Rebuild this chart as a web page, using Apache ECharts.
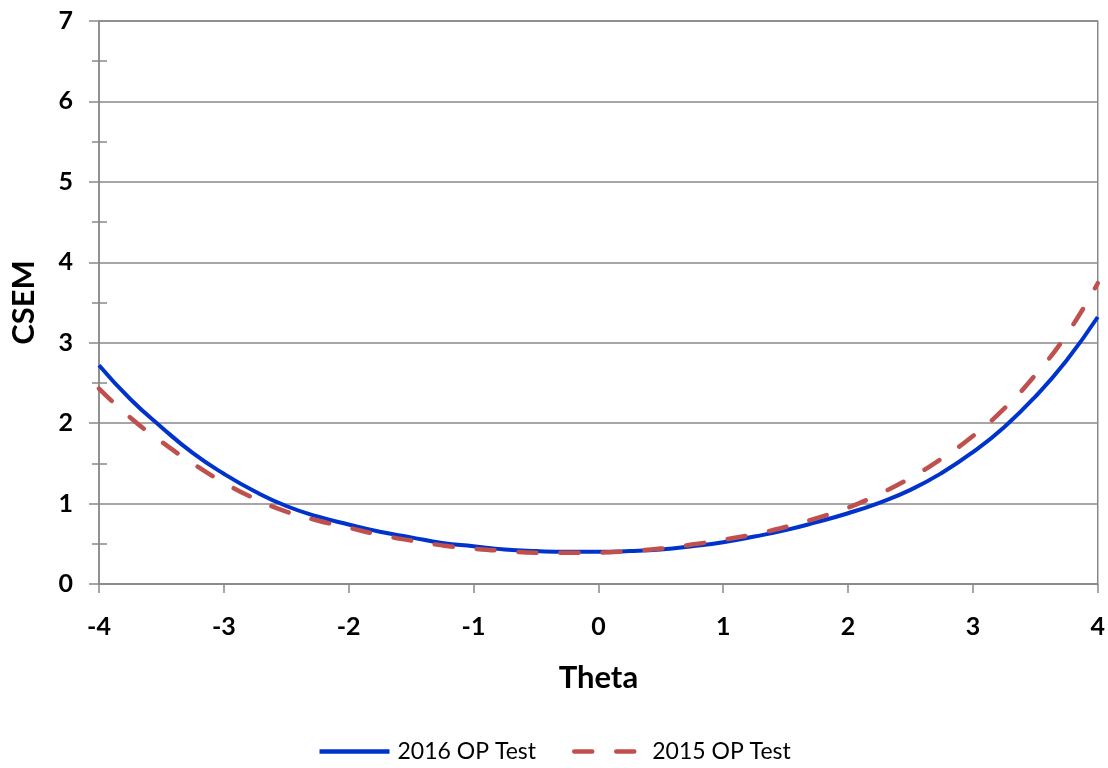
<!DOCTYPE html>
<html>
<head>
<meta charset="utf-8">
<script src="https://cdn.jsdelivr.net/npm/echarts@6/dist/echarts.min.js"></script>
<style>html,body{margin:0;padding:0;background:#fff;}#c{width:1108px;height:768px;}</style>
</head>
<body>
<div id="c"></div>
<script>
var theta = [-4,-3.75,-3.5,-3.25,-3,-2.75,-2.5,-2.25,-2,-1.75,-1.5,-1.25,-1,-0.75,-0.5,-0.25,0,0.25,0.5,0.75,1,1.25,1.5,1.75,2,2.25,2.5,2.75,3,3.25,3.5,3.75,4];
var csem2016 = [2.72,2.30,1.95,1.63,1.37,1.15,0.97,0.84,0.74,0.65,0.58,0.51,0.47,0.43,0.41,0.40,0.40,0.41,0.43,0.47,0.52,0.59,0.67,0.77,0.88,1.01,1.17,1.38,1.64,1.95,2.33,2.78,3.32];
var csem2015 = [2.43,2.07,1.77,1.50,1.26,1.06,0.90,0.79,0.70,0.61,0.54,0.48,0.44,0.41,0.39,0.39,0.39,0.41,0.44,0.49,0.55,0.62,0.71,0.82,0.95,1.12,1.32,1.56,1.84,2.18,2.60,3.10,3.74];
var seriesNames = ['2016 OP Test','2015 OP Test'];

function pairs(xs, ys){ return xs.map(function(x,i){ return [x, ys[i]]; }); }

var gray = '#898989';
var font = 'Lato, "Open Sans", sans-serif';
var chart = echarts.init(document.getElementById('c'));
chart.setOption({
  animation: false,
  backgroundColor: '#fff',
  grid: { left: 99, right: 10, top: 21, bottom: 184, show: true, borderColor: gray, borderWidth: 1.5 },
  legend: {
    top: 735, left: 'center', itemWidth: 70, itemHeight: 12, itemGap: 36,
    textStyle: { fontFamily: font, fontSize: 23, color: '#000', padding: [0, 0, 0, 3] },
    itemStyle: { color: 'rgba(0,0,0,0)', opacity: 0, borderWidth: 0 },
    lineStyle: { width: 4.5 },
    data: seriesNames
  },
  xAxis: {
    type: 'value', min: -4, max: 4, interval: 1,
    name: 'Theta', nameLocation: 'middle', nameGap: 78,
    nameTextStyle: { fontFamily: font, fontSize: 31, fontWeight: 'bold', color: '#000' },
    axisLine: { show: true, onZero: false, lineStyle: { color: gray, width: 1.5 } },
    axisTick: { show: true, length: 9, lineStyle: { color: gray, width: 1.5 } },
    axisLabel: { margin: 30, fontFamily: font, fontSize: 25, fontWeight: 'bold', color: '#000' },
    splitLine: { show: false }
  },
  yAxis: [{
    type: 'value', min: 0, max: 7, interval: 1,
    name: 'CSEM', nameLocation: 'middle', nameGap: 60,
    nameTextStyle: { fontFamily: font, fontSize: 31, fontWeight: 'bold', color: '#000' },
    axisLine: { show: true, onZero: false, lineStyle: { color: gray, width: 1.5 } },
    axisTick: { show: true, length: 10, lineStyle: { color: gray, width: 1.5 } },
    minorTick: { show: true, splitNumber: 2, length: 7, lineStyle: { color: gray, width: 1.5 } },
    axisLabel: { margin: 26, fontFamily: font, fontSize: 25, fontWeight: 'bold', color: '#000' },
    splitLine: { show: true, lineStyle: { color: gray, width: 1.5 } }
  }, {
    type: 'value', min: 0, max: 7, interval: 1, position: 'left',
    axisLine: { show: false, onZero: false },
    axisTick: { show: false, inside: true },
    minorTick: { show: true, splitNumber: 2, length: 8, lineStyle: { color: gray, width: 1.5 } },
    axisLabel: { show: false },
    splitLine: { show: false }
  }],
  series: [{
    name: seriesNames[0], type: 'line', smooth: true, symbol: 'none',
    data: pairs(theta, csem2016),
    lineStyle: { color: '#0033cc', width: 4 },
    itemStyle: { color: '#0033cc' }
  }, {
    name: seriesNames[1], type: 'line', smooth: true, symbol: 'none',
    data: pairs(theta, csem2015),
    lineStyle: { color: '#c0504d', width: 4.5, type: [18, 24], cap: 'round' },
    itemStyle: { color: '#c0504d' }
  }]
});
</script>
</body>
</html>
